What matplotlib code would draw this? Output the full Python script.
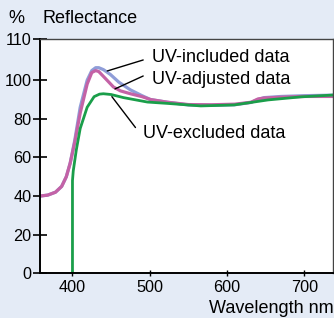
import numpy as np
import matplotlib.pyplot as plt

plt.rcParams['font.family'] = ['Liberation Sans', 'DejaVu Sans']

# reflectance curves (wavelength nm, %)
wl_incl = [358, 368, 378, 386, 392, 397, 403, 410, 419, 425, 430, 434, 440, 449, 460, 475, 490, 501, 523, 550, 580, 610, 631, 640, 648, 670, 700, 740]
r_incl = [40, 40.5, 42, 45, 50, 57, 69, 86, 100, 105, 106.5, 106.5, 105.5, 103, 99, 95, 92, 90, 88.6, 87.2, 87, 87.3, 88.5, 90, 91, 91.6, 92, 92.3]

wl_adj = [358, 368, 378, 386, 392, 397, 403, 410, 419, 425, 430, 434, 440, 453, 462, 475, 490, 501, 523, 550, 580, 610, 631, 640, 648, 670, 700, 740]
r_adj = [40, 40.5, 42, 45, 50, 57, 68, 83, 98, 104, 105, 104.5, 102, 96.5, 94.5, 93, 91.5, 90, 88.6, 87.4, 87.3, 87.6, 88.6, 90.3, 90.8, 91.2, 91.6, 91.6]

wl_excl = [400, 400, 401, 405, 410, 419, 428, 435, 440, 450, 466, 497, 523, 566, 609, 653, 696, 740]
r_excl = [0, 48, 53, 64, 75, 86, 91.5, 92.8, 93, 92.6, 91, 88.7, 88, 86.7, 87.2, 89.8, 91.4, 92.4]

xticks = [400, 500, 600, 700]
ytick_labels = ['0', '20', '40', '60', '80', '100', '110']

# labels: text position, leader start, leader end (on curve)
labels = ['UV-included data', 'UV-adjusted data', 'UV-excluded data']
label_pos = [(503, 112), (503, 100.5), (491, 72.5)]
leader_from = [(491.5, 110.5), (491.5, 102.2), (481.5, 75.5)]
leader_to = [(445, 104.8), (455, 95.5), (451, 91.5)]

bg = '#e4ebf6'
fig = plt.figure(figsize=(3.34, 3.18), dpi=100, facecolor=bg)
ax = fig.add_axes([0.1198, 0.1406, 0.877, 0.737])

ax.plot(wl_incl, r_incl, color='#8f9dd8', lw=2.3, solid_capstyle='round')
ax.plot(wl_adj, r_adj, color='#c462a6', lw=2.3, solid_capstyle='round')
ax.plot(wl_excl, r_excl, color='#1a9e4a', lw=2.0)

ax.set_xlim(358, 737)
ax.set_ylim(0, 121.4)
ax.set_xticks(xticks)
ax.set_yticks([0, 20, 40, 60, 80, 100, 121.4])
ax.set_yticklabels(ytick_labels)
ax.tick_params(axis='y', direction='inout', length=10, width=1.2, labelsize=11.7, pad=1)
ax.tick_params(axis='x', direction='inout', length=5, width=1.0, labelsize=11.7, pad=2)
for s in ['left', 'bottom']:
    ax.spines[s].set_linewidth(1.4)
for s in ['top', 'right']:
    ax.spines[s].set_color('#444444')
    ax.spines[s].set_linewidth(1.0)

fs = 13
for txt, p, a, b in zip(labels, label_pos, leader_from, leader_to):
    ax.text(p[0], p[1], txt, fontsize=fs, va='center', ha='left')
    ax.annotate('', xy=b, xytext=a,
                arrowprops=dict(arrowstyle='-', color='black', lw=1.0, shrinkA=0, shrinkB=0))

fig.text(0.024, 0.943, '%', fontsize=fs, va='center')
fig.text(0.126, 0.943, 'Reflectance', fontsize=fs, va='center')
fig.text(0.998, 0.016, 'Wavelength nm', fontsize=fs, ha='right', va='baseline')

fig.savefig('out.png', dpi=100, facecolor=bg)
